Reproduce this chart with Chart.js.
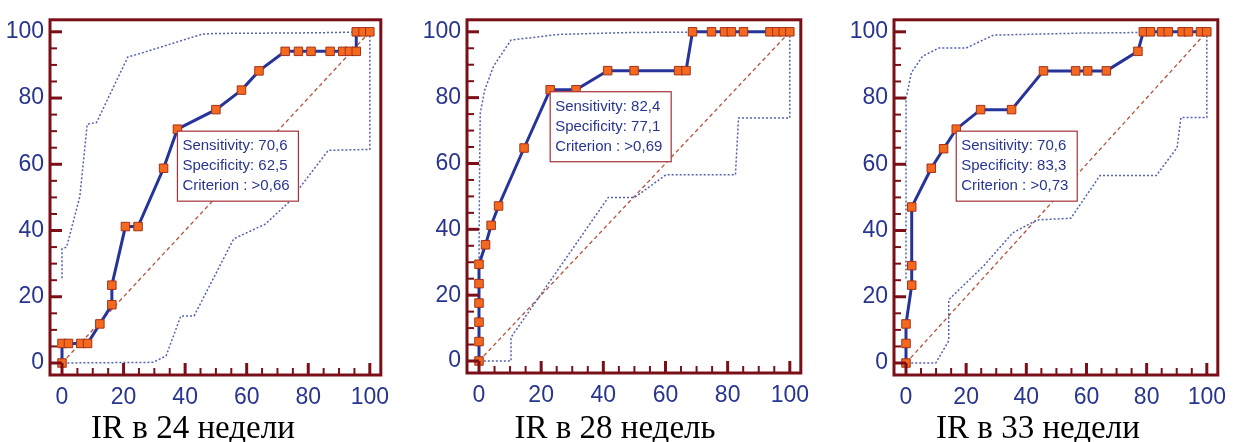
<!DOCTYPE html>
<html>
<head>
<meta charset="utf-8">
<script src="https://cdn.jsdelivr.net/npm/chart.js@4"></script>
<style>
  body { margin: 0; background: #fff; }
  #wrap { position: relative; width: 1247px; height: 442px; overflow: hidden; }
  .pane { position: absolute; top: 0; height: 420px; }
  .cap { position: absolute; top: 411px; width: 300px; text-align: center;
         font-family: "Liberation Serif", "Times New Roman", serif; font-size: 33px; line-height: 33px; color: #000; }
</style>
</head>
<body>
<div id="wrap">
  <div class="pane" style="left:0;width:410px"><canvas id="c24"></canvas></div>
  <div class="pane" style="left:420px;width:410px"><canvas id="c28"></canvas></div>
  <div class="pane" style="left:837px;width:410px"><canvas id="c33"></canvas></div>
  <div class="cap" style="left:43px">IR в 24 недели</div>
  <div class="cap" style="left:465px">IR в 28 недель</div>
  <div class="cap" style="left:888px">IR в 33 недели</div>
</div>
<script>
'use strict'

// axis ticks
var axisTicks = [0, 20, 40, 60, 80, 100];

// ROC curves: [100-Specificity, Sensitivity]
var roc24 = [[0, 0], [0, 5.9], [2.1, 5.9], [6.1, 5.9], [8.3, 5.9], [12.3, 11.8], [16.2, 17.6], [16.2, 23.5],
    [20.6, 41.2], [24.7, 41.2], [33.0, 58.8], [37.5, 70.6], [50.0, 76.5], [58.3, 82.4], [64.0, 88.2],
    [72.5, 94.1], [76.8, 94.1], [80.9, 94.1], [87.1, 94.1], [91.2, 94.1], [93.4, 94.1], [95.6, 94.1],
    [95.6, 100], [97.8, 100], [100, 100]];
var roc28 = [[0, 0], [0, 5.9], [0, 11.8], [0, 17.6], [0, 23.5], [0, 29.4], [2.1, 35.3], [3.9, 41.2],
    [6.3, 47.1], [14.5, 64.7], [22.9, 82.4], [31.2, 82.4], [41.4, 88.2], [49.9, 88.2], [64.2, 88.2],
    [66.6, 88.2], [68.7, 100], [74.8, 100], [79.0, 100], [81.2, 100], [85.1, 100], [93.6, 100],
    [95.8, 100], [97.9, 100], [100, 100]];
var roc33 = [[0, 0], [0, 5.9], [0, 11.8], [1.9, 23.5], [1.9, 29.4], [1.9, 47.1], [8.4, 58.8], [12.5, 64.7],
    [16.7, 70.6], [24.8, 76.5], [35.1, 76.5], [45.7, 88.2], [56.4, 88.2], [60.4, 88.2], [66.6, 88.2],
    [77.1, 94.1], [78.9, 100], [81.3, 100], [85.0, 100], [87.2, 100], [91.8, 100], [93.9, 100],
    [97.9, 100], [100, 100]];

// 95% confidence bounds
var upper24 = [[0, 25.6], [0, 34.5], [1.5, 35], [5.8, 50.3], [8.2, 72.1], [11.2, 72.6], [21.4, 92.4],
    [25.2, 93.4], [45.6, 99.3], [50, 99.5], [82.8, 99.7], [100, 100]];
var lower24 = [[100, 100], [100, 64.5], [86.5, 64.2], [73.5, 48.4], [66.0, 41.9], [55.8, 37.5],
    [42.9, 14.2], [38.6, 14.2], [33.8, 2.1], [29.5, 0.2], [0, 0]];
var upper28 = [[0, 30], [0.2, 60], [0.4, 75.3], [1.8, 82.2], [4.7, 89.6], [10.3, 97.5], [25.7, 99.2],
    [49, 99.8], [100, 100]];
var lower28 = [[100, 100], [100, 73.8], [83.5, 73.8], [82.5, 56.6], [60.2, 56.6], [50.1, 49.7],
    [41.6, 49.7], [10.3, 7.2], [10.3, 0], [0, 0]];
var upper33 = [[0, 25.5], [0, 79.8], [1.8, 87.7], [5.5, 92.6], [10.9, 95.1], [20, 95.1], [29.1, 99.0],
    [58, 99.6], [100, 100]];
var lower33 = [[100, 100], [100, 74.1], [91.4, 74.1], [90.1, 65.0], [83.2, 56.6], [64.5, 56.6],
    [54.8, 43.7], [43.6, 43.2], [35.5, 39.3], [25.9, 29.4], [14.2, 19.1], [14.2, 6.7], [9.9, 0], [0, 0]];

var chance = [[0, 0], [100, 100]];

// cut-off boxes
var cut24 = { point: [37.5, 70.6], lines: ['Sensitivity: 70,6', 'Specificity: 62,5', 'Criterion : >0,66'] };
var cut28 = { point: [22.9, 82.4], lines: ['Sensitivity: 82,4', 'Specificity: 77,1', 'Criterion : >0,69'] };
var cut33 = { point: [16.7, 70.6], lines: ['Sensitivity: 70,6', 'Specificity: 83,3', 'Criterion : >0,73'] };

var frameColor = '#7a0f17';
var labelColor = '#27358f';

function pts(arr) {
    return arr.map(function (p) { return { x: p[0], y: p[1] }; });
}

/* frame with inner ticks */
var framePlugin = {
    id: 'frame',
    afterDraw: function (chart) {
        var ctx = chart.ctx, a = chart.chartArea;
        var pad = 12;
        var L = a.left - pad, R = a.right + 11, T = a.top - pad, B = a.bottom + pad;
        ctx.save();
        ctx.strokeStyle = frameColor;
        ctx.lineWidth = 3;
        ctx.strokeRect(L, T, R - L, B - T);
        chart.scales.y.ticks.forEach(function (t) {
            var y = chart.scales.y.getPixelForValue(t.value);
            var major = t.value % 20 === 0;
            ctx.lineWidth = major ? 3 : 2;
            ctx.beginPath();
            ctx.moveTo(L, y);
            ctx.lineTo(L + (major ? 12 : 7), y);
            ctx.stroke();
        });
        chart.scales.x.ticks.forEach(function (t) {
            var x = chart.scales.x.getPixelForValue(t.value);
            var major = t.value % 20 === 0;
            ctx.lineWidth = major ? 3 : 2;
            ctx.beginPath();
            ctx.moveTo(x, B);
            ctx.lineTo(x, B - (major ? 12 : 7));
            ctx.stroke();
        });
        ctx.restore();
    }
};

/* criterion box */
var boxPlugin = {
    id: 'cutbox',
    afterDatasetsDraw: function (chart, args, opts) {
        var ctx = chart.ctx;
        var x = chart.scales.x.getPixelForValue(opts.point[0]);
        var y = chart.scales.y.getPixelForValue(opts.point[1]) + 2;
        ctx.save();
        ctx.fillStyle = '#ffffff';
        ctx.fillRect(x, y, 121, 70);
        ctx.strokeStyle = '#a3323a';
        ctx.lineWidth = 1.2;
        ctx.strokeRect(x, y, 121, 70);
        ctx.fillStyle = labelColor;
        ctx.font = 'normal 15px Arial';
        ctx.textAlign = 'left';
        ctx.textBaseline = 'alphabetic';
        for (var i = 0; i < opts.lines.length; i++) {
            ctx.fillText(opts.lines[i], x + 5, y + 19 + i * 20);
        }
        ctx.restore();
    }
};

function makeChart(id, roc, upper, lower, cut, geo) {
    var ctx = document.getElementById(id).getContext('2d');
    return new Chart(ctx, {
        type: 'line',
        data: {
            datasets: [{
                data: pts(roc),
                borderColor: '#26349a',
                borderWidth: 3,
                pointStyle: 'rect',
                pointRadius: 6,
                pointBackgroundColor: '#f5691f',
                pointBorderColor: '#a3321a',
                pointBorderWidth: 1,
                tension: 0,
                clip: false
            }, {
                data: pts(upper),
                borderColor: '#5262b3',
                borderWidth: 1.5,
                borderDash: [2, 2],
                pointRadius: 0,
                tension: 0,
                clip: false
            }, {
                data: pts(lower),
                borderColor: '#5262b3',
                borderWidth: 1.5,
                borderDash: [2, 2],
                pointRadius: 0,
                tension: 0,
                clip: false
            }, {
                data: pts(chance),
                borderColor: '#b5523b',
                borderWidth: 1.3,
                borderDash: [4, 3],
                pointRadius: 0,
                clip: false
            }]
        },
        options: {
            responsive: false,
            animation: false,
            events: [],
            layout: {
                padding: { top: geo.top, right: geo.right, left: 0, bottom: 0 }
            },
            plugins: {
                legend: { display: false },
                tooltip: { enabled: false },
                cutbox: { point: cut.point, lines: cut.lines }
            },
            scales: {
                x: {
                    type: 'linear',
                    min: 0,
                    max: 100,
                    grid: { display: false, drawTicks: false },
                    border: { display: false },
                    afterFit: function (s) { s.height = geo.bottom; },
                    ticks: {
                        stepSize: 5,
                        autoSkip: false,
                        maxRotation: 0,
                        padding: 21,
                        color: labelColor,
                        font: { family: 'Arial', size: 23 },
                        callback: function (v) { return axisTicks.indexOf(v) >= 0 ? String(v) : ''; }
                    }
                },
                y: {
                    type: 'linear',
                    min: 0,
                    max: 100,
                    grid: { display: false, drawTicks: false },
                    border: { display: false },
                    afterFit: function (s) { s.width = geo.left; },
                    ticks: {
                        stepSize: 5,
                        autoSkip: false,
                        padding: 18,
                        color: labelColor,
                        font: { family: 'Arial', size: 23 },
                        callback: function (v) { return axisTicks.indexOf(v) >= 0 ? String(v) : ''; }
                    }
                }
            }
        },
        plugins: [framePlugin, boxPlugin]
    });
}

function setSize(id, w, h) {
    var c = document.getElementById(id);
    c.width = w; c.height = h;
    c.style.width = w + 'px'; c.style.height = h + 'px';
}

setSize('c24', 410, 420);
setSize('c28', 410, 420);
setSize('c33', 410, 420);

// geometry: left = y-axis width, right/top padding, bottom = x-axis height
makeChart('c24', roc24, upper24, lower24, cut24, { left: 62, right: 38, top: 26, bottom: 57 });
makeChart('c28', roc28, upper28, lower28, cut28, { left: 59, right: 37, top: 23, bottom: 59 });
makeChart('c33', roc33, upper33, lower33, cut33, { left: 69, right: 30, top: 25, bottom: 57 });
</script>
</body>
</html>
